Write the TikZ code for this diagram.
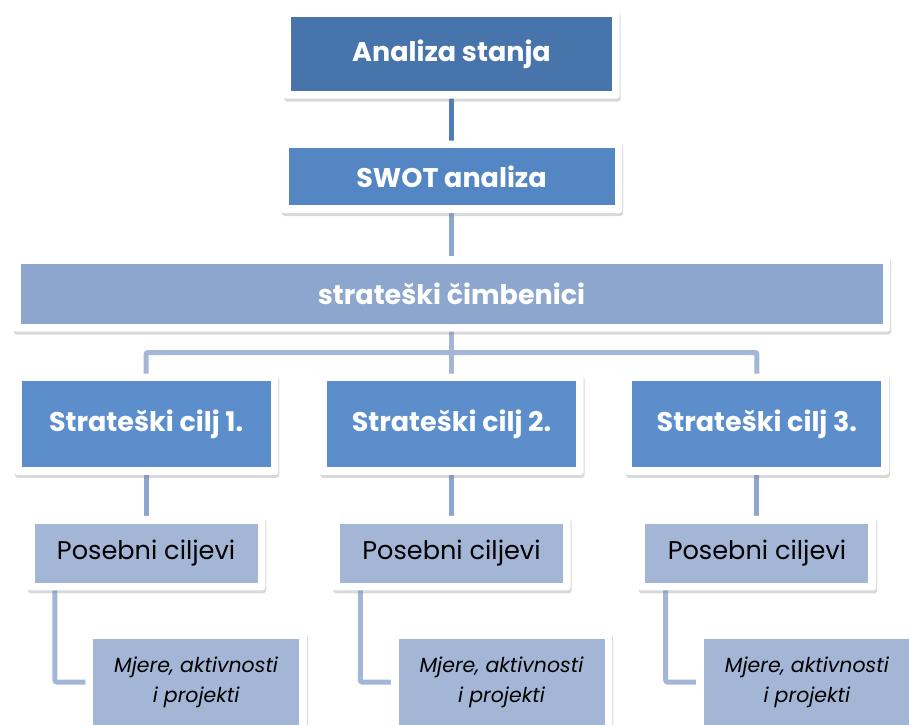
\documentclass[tikz,border=0pt]{standalone}
\usepackage{fontspec}
\setmainfont{Poppins}
\usetikzlibrary{positioning, calc, shadows, backgrounds}
\definecolor{stanjeblue}{HTML}{4774AB}
\definecolor{swotblue}{HTML}{5486C3}
\definecolor{stratblue}{HTML}{8CA6CE}
\definecolor{ciljblue}{HTML}{5B8ECB}
\definecolor{paleblue}{HTML}{A3B6D6}
\definecolor{linkdark}{HTML}{4F7DB7}

\begin{document}
\begin{tikzpicture}[x=1pt, y=-1pt,
    box/.style = {rectangle, inner sep=0pt, text centered},
    titlebox/.style = {box, text=white, font=\fontsize{27}{31}\selectfont\bfseries},
    plainbox/.style = {box, fill=paleblue, text=black, font=\fontsize{25.6}{30}\selectfont},
    mjerebox/.style = {box, fill=paleblue, text=black, align=center, minimum width=206pt, minimum height=86pt, font=\fontsize{20.5}{30}\selectfont\itshape},
    frame/.style = {fill=white, rounded corners=3pt, drop shadow={shadow xshift=1pt, shadow yshift=-3pt, opacity=.3}},
    link/.style = {line width=5pt, paleblue}]
    \clip (0,0) rectangle (909,724);
    % Nodes
    \node (stanje) [titlebox, fill=stanjeblue, minimum width=321pt, minimum height=74pt] at (451.5,54) {Analiza stanja};
    \node (swot) [titlebox, fill=swotblue, minimum width=326pt, minimum height=57pt, below=57pt of stanje] {SWOT analiza};
    \node (strat) [titlebox, fill=stratblue, minimum width=862pt, minimum height=60pt, below=58pt of swot] {strateški čimbenici};
    \node (cilj2) [titlebox, fill=ciljblue, minimum width=249pt, minimum height=86pt, below=57pt of strat] {Strateški cilj 2.};
    \node (cilj1) [titlebox, fill=ciljblue, minimum width=249pt, minimum height=86pt, left=56pt of cilj2] {Strateški cilj 1.};
    \node (cilj3) [titlebox, fill=ciljblue, minimum width=249pt, minimum height=86pt, right=56pt of cilj2] {Strateški cilj 3.};
    \foreach \i in {1,2,3} {
        \node (posebni\i) [plainbox, minimum width=223pt, minimum height=59pt, below=56pt of cilj\i] {Posebni ciljevi};
        \node (mjere\i) [mjerebox, below=56pt of posebni\i, xshift=50pt] {Mjere, aktivnosti\\i projekti};
    }

    % Connectors and white frames
    \begin{scope}[on background layer]
        \draw [link, linkdark] (stanje) -- (swot);
        \draw [link, stratblue] (swot) -- (strat);
        \draw [link, rounded corners=2pt] (cilj1.north) |- ($(strat.south)+(0,28.5)$) -| (cilj3.north);
        \draw [link] (strat) -- (cilj2);
        \foreach \i in {1,2,3} {
            \draw [link, stratblue] (cilj\i) -- (posebni\i);
            \draw [link, rounded corners=2pt] ($(posebni\i.south west)+(20.5,0)$) |- (mjere\i.west);
        }
        \foreach \n in {stanje, swot, strat, cilj1, cilj2, cilj3, posebni1, posebni2, posebni3, mjere1, mjere2, mjere3}
            \fill [frame] ($(\n.south west)+(-7.5,7.5)$) rectangle ($(\n.north east)+(7.5,-7.5)$);
    \end{scope}
\end{tikzpicture}
\end{document}
